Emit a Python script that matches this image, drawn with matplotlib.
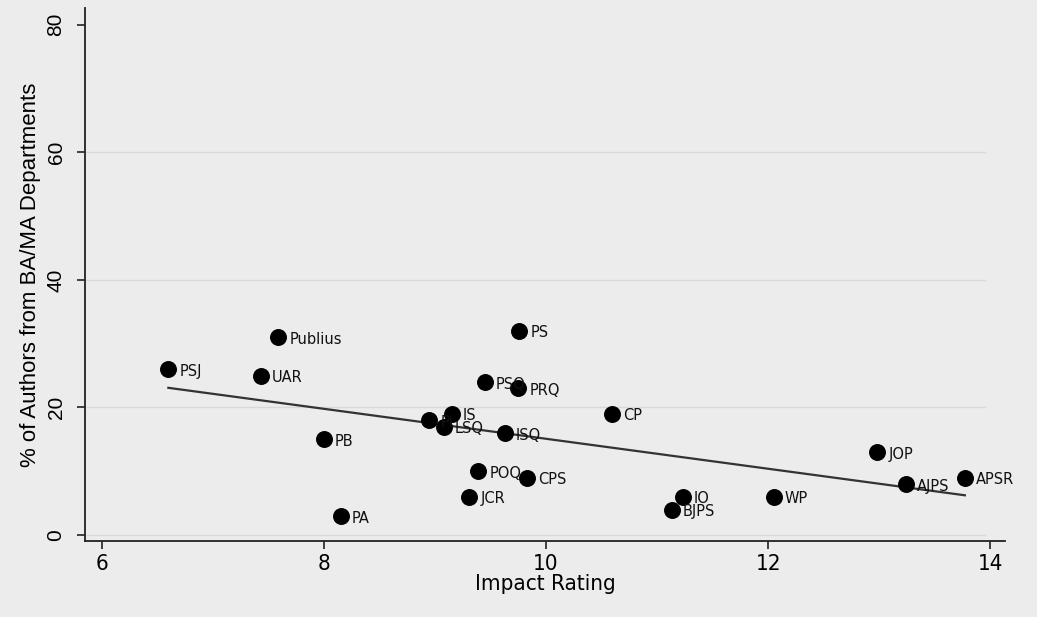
import numpy as np
import matplotlib.pyplot as plt

# Journal impact rating vs share of authors from BA/MA departments
journals = ['PSJ', 'UAR', 'Publius', 'PB', 'PA', 'PI', 'IS', 'LSQ', 'ISQ', 'POQ', 'CPS',
            'JCR', 'PSQ', 'PRQ', 'PS', 'CP', 'IO', 'BJPS', 'WP', 'JOP', 'AJPS', 'APSR']
impact = [6.60, 7.43, 7.59, 8.00, 8.15, 8.95, 9.15, 9.08, 9.63, 9.39, 9.83,
          9.31, 9.45, 9.75, 9.76, 10.59, 11.23, 11.13, 12.05, 12.98, 13.24, 13.77]
pct_ba_ma = [26, 25, 31, 15, 3, 18, 19, 17, 16, 10, 9,
             6, 24, 23, 32, 19, 6, 4, 6, 13, 8, 9]

x_ticks = [6, 8, 10, 12, 14]
y_ticks = [0, 20, 40, 60, 80]

bg = '#ececec'
fig = plt.figure(figsize=(10.37, 6.17), dpi=100, facecolor=bg)
ax = fig.add_axes([0.082, 0.123, 0.887, 0.864], facecolor=bg)

# light horizontal grid (stops a bit short of the right end)
for yv in y_ticks[:-1]:
    ax.plot([5.85, 13.95], [yv, yv], color='#d8d8d8', lw=1, zorder=0)

ax.scatter(impact, pct_ba_ma, s=125, color='black', zorder=3)
for name, xv, yv in zip(journals, impact, pct_ba_ma):
    ax.annotate(name, (xv, yv), xytext=(8, -1.5), textcoords='offset points',
                ha='left', va='center', fontsize=10.5, color='#111111', zorder=4)

# fitted line
b, a = np.polyfit(impact, pct_ba_ma, 1)
xs = np.array([min(impact), max(impact)])
ax.plot(xs, a + b * xs, color='#333333', lw=1.6, zorder=2)

ax.set_xlim(5.85, 14.13)
ax.set_ylim(-0.94, 82.6)
ax.set_xticks(x_ticks)
ax.set_yticks(y_ticks)

for side in ['top', 'right']:
    ax.spines[side].set_visible(False)
for side in ['left', 'bottom']:
    ax.spines[side].set_color('#222222')
    ax.spines[side].set_linewidth(1.3)

ax.tick_params(axis='both', direction='out', length=6, width=1.2, color='#222222')
ax.tick_params(axis='y', pad=8)
ax.set_xticklabels([str(t) for t in x_ticks], fontsize=16, family='DejaVu Sans', stretch='condensed')
ax.set_yticklabels([str(t) for t in y_ticks], fontsize=15, family='Liberation Sans', rotation=90, va='center')
ax.set_xlabel('Impact Rating', fontsize=16, family='DejaVu Sans', stretch='condensed', labelpad=0)
ax.set_ylabel('% of Authors from BA/MA Departments', fontsize=16, family='Liberation Sans', labelpad=4)

plt.savefig('out.png', dpi=100, facecolor=bg)
